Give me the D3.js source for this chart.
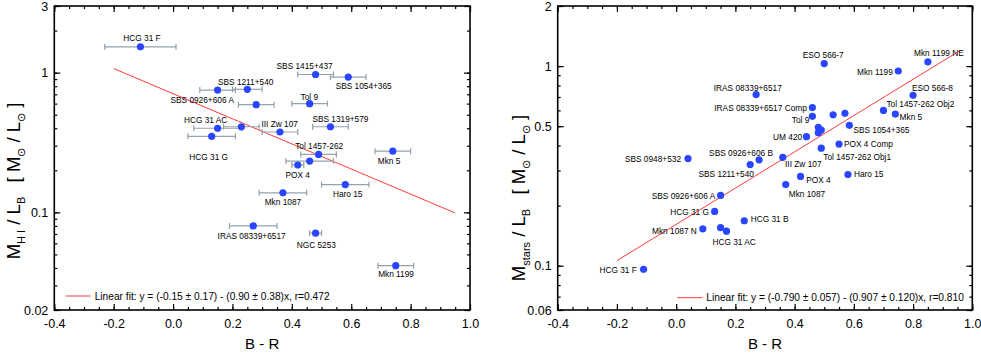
<!DOCTYPE html>
<html>
<head>
<meta charset="utf-8">
<script src="https://cdn.jsdelivr.net/npm/d3@7"></script>
<style>
  body { margin: 0; background: #fff; }
  text { font-family: "Liberation Sans", Arial, sans-serif; fill: #000; }
</style>
</head>
<body>
<svg id="chart" width="981" height="353"></svg>
<script>
// ---- data: left panel (HI mass to light) ----
const hiNames = ['HCG 31 F', 'SBS 1415+437', 'SBS 1054+365', 'SBS 1211+540', 'SBS 0926+606 A', '',
  'Tol 9', 'SBS 1319+579', 'HCG 31 AC', '', 'HCG 31 G', 'III Zw 107', 'Tol 1457-262', '',
  'POX 4', 'Mkn 5', 'Haro 15', 'Mkn 1087', 'IRAS 08339+6517', 'NGC 5253', 'Mkn 1199'];
const hiX = [-0.11, 0.48, 0.59, 0.25, 0.15, 0.28, 0.46, 0.53, 0.15, 0.23, 0.13, 0.36, 0.49, 0.46,
  0.42, 0.74, 0.58, 0.37, 0.27, 0.48, 0.75];
const hiXErr = [0.12, 0.06, 0.06, 0.05, 0.06, 0.06, 0.06, 0.06, 0.08, 0.06, 0.08, 0.06, 0.06, 0.08,
  0.02, 0.06, 0.08, 0.08, 0.08, 0.02, 0.06];
const hiY = [1.53, 0.97, 0.93, 0.76, 0.75, 0.59, 0.60, 0.41, 0.40, 0.41, 0.35, 0.376, 0.26, 0.233,
  0.218, 0.274, 0.158, 0.138, 0.080, 0.071, 0.0415];
const hiFitX = [-0.2, 0.95];
const hiFitY = [1.07, 0.099];
const hiYTicks = [0.02, 0.1, 1, 3];
const hiLegend = 'Linear fit: y = (-0.15 \u00b1 0.17) - (0.90 \u00b1 0.38)x, r=0.472';

// ---- data: right panel (stellar mass to light) ----
const starNames = ['ESO 566-7', 'Mkn 1199 NE', 'Mkn 1199', 'ESO 566-8', 'IRAS 08339+6517',
  'IRAS 08339+6517 Comp', 'Tol 9', '', '', 'Tol 1457-262 Obj2', 'Mkn 5', '', '', '',
  'SBS 1054+365', 'UM 420', 'POX 4 Comp', 'Tol 1457-262 Obj1', 'III Zw 107', 'SBS 0948+532',
  'SBS 0926+606 B', 'SBS 1211+540', 'POX 4', 'Haro 15', 'Mkn 1087', 'SBS 0926+606 A',
  'HCG 31 G', 'HCG 31 B', 'Mkn 1087 N', '', 'HCG 31 AC', 'HCG 31 F'];
const starX = [0.50, 0.85, 0.75, 0.80, 0.27, 0.46, 0.46, 0.53, 0.57, 0.70, 0.74, 0.48, 0.49, 0.48,
  0.585, 0.44, 0.55, 0.49, 0.36, 0.04, 0.28, 0.25, 0.42, 0.58, 0.37, 0.15, 0.13, 0.23, 0.09, 0.15,
  0.17, -0.11];
const starY = [1.03, 1.05, 0.945, 0.714, 0.72, 0.62, 0.56, 0.57, 0.58, 0.60, 0.575, 0.494, 0.478,
  0.464, 0.505, 0.443, 0.407, 0.388, 0.349, 0.344, 0.339, 0.321, 0.28, 0.286, 0.255, 0.225, 0.187,
  0.168, 0.153, 0.155, 0.149, 0.096];
const starFitX = [-0.2, 0.96];
const starFitY = [0.106, 1.2];
const starYTicks = [0.06, 0.1, 0.5, 1, 2];
const starLegend = 'Linear fit: y = (-0.790 \u00b1 0.057) - (0.907 \u00b1 0.120)x, r=0.810';

const xTicks = [-0.4, -0.2, 0.0, 0.2, 0.4, 0.6, 0.8, 1.0];

// label placement (pixel offset from the point, text anchor)
const hiLabelPos = [[1.6, -5.7, 'middle'], [-11, -5.3, 'middle'], [15.4, 11.5, 'middle'],
  [-1.6, -4.8, 'middle'], [-15.4, 12.7, 'middle'], null, [-0.3, -4, 'middle'], [10, -5, 'middle'],
  [-12, -5.7, 'middle'], null, [-3, 23.2, 'middle'], [-0.3, -5, 'middle'], [0.6, -5.7, 'middle'],
  null, [0, 12.5, 'middle'], [-3.7, 12.7, 'middle'], [2.4, 12.3, 'middle'], [0, 12.5, 'middle'],
  [-1.6, 13.5, 'middle'], [0.7, 14.7, 'middle'], [0.3, 11.3, 'middle']];
const starLabelPos = [[-1, -5.3, 'middle'], [11, -6, 'middle'], [-5.4, 4, 'end'],
  [19.4, -4.3, 'middle'], [-8.3, -3.7, 'middle'], [-5.6, 3.7, 'end'], [-3, 7, 'end'], null, null,
  [3, -3.3, 'start'], [4.3, 6, 'start'], null, null, null, [4, 7.7, 'start'], [-4.3, 3.3, 'end'],
  [5, 3, 'start'], [2, 11.7, 'start'], [2.3, 9.7, 'start'], [-7, 3.3, 'end'], [-18, -4, 'middle'],
  [-24, 12.3, 'middle'], [5.7, 6.2, 'start'], [6, 2.8, 'start'], [3, 12.3, 'start'],
  [-5.4, 3.2, 'end'], [-5.7, 3.7, 'end'], [6.4, 1.3, 'start'], [-6, 5, 'end'], null,
  [7.6, 13.5, 'middle'], [-6.7, 3.7, 'end']];

const svg = d3.select('#chart');

function minorLogTicks(domain) {
  let out = [];
  let lo = Math.floor(Math.log10(domain[0])), hi = Math.ceil(Math.log10(domain[1]));
  for (let e = lo; e <= hi; e++) {
    for (let m = 1; m <= 9; m++) {
      let v = +(m * Math.pow(10, e)).toPrecision(6);
      if (v >= domain[0] * 0.999 && v <= domain[1] * 1.001) out.push(v);
    }
  }
  return out;
}

function drawPanel(p) {
  const x = d3.scaleLinear().domain([-0.4, 1.0]).range([p.left, p.right]);
  const y = d3.scaleLog().domain(p.yDomain).range([p.bottom, p.top]);
  const g = svg.append('g');

  const xMinor = d3.range(-0.4, 1.0001, 0.05).map(v => +v.toFixed(2));
  const yMinor = minorLogTicks(p.yDomain);

  // minor ticks on all four sides
  const minorAxes = [
    [d3.axisBottom(x).tickValues(xMinor), p.bottom, 'y'],
    [d3.axisTop(x).tickValues(xMinor), p.top, 'y'],
    [d3.axisLeft(y).tickValues(yMinor), p.left, 'x'],
    [d3.axisRight(y).tickValues(yMinor), p.right, 'x']
  ];
  minorAxes.forEach(([ax, pos, dir]) => {
    g.append('g')
      .attr('transform', dir === 'y' ? `translate(0,${pos})` : `translate(${pos},0)`)
      .call(ax.tickSize(-3).tickSizeOuter(0).tickFormat(''))
      .call(s => s.select('.domain').remove());
  });

  // major ticks
  g.append('g').attr('transform', `translate(0,${p.bottom})`)
    .call(d3.axisBottom(x).tickValues(xTicks).tickSize(-6).tickSizeOuter(0)
      .tickPadding(9).tickFormat(d => d.toFixed(1)))
    .call(s => s.select('.domain').remove())
    .call(s => s.selectAll('text').attr('font-size', 12.5));
  g.append('g').attr('transform', `translate(0,${p.top})`)
    .call(d3.axisTop(x).tickValues(xTicks).tickSize(-6).tickSizeOuter(0).tickFormat(''))
    .call(s => s.select('.domain').remove());
  g.append('g').attr('transform', `translate(${p.left},0)`)
    .call(d3.axisLeft(y).tickValues(p.yTicks).tickSize(-6).tickSizeOuter(0)
      .tickPadding(6).tickFormat(d => String(d)))
    .call(s => s.select('.domain').remove())
    .call(s => s.selectAll('text').attr('font-size', 12.5));
  g.append('g').attr('transform', `translate(${p.right},0)`)
    .call(d3.axisRight(y).tickValues(p.yTicks).tickSize(-6).tickSizeOuter(0).tickFormat(''))
    .call(s => s.select('.domain').remove());
  g.selectAll('.tick line').attr('stroke', '#000').attr('stroke-width', 1.2);

  g.append('rect')
    .attr('x', p.left).attr('y', p.top)
    .attr('width', p.right - p.left).attr('height', p.bottom - p.top)
    .attr('fill', 'none').attr('stroke', '#000').attr('stroke-width', 1.6);

  // fit line
  g.append('path')
    .attr('d', d3.line().x(d => x(d[0])).y(d => y(d[1]))(d3.zip(p.fitX, p.fitY)))
    .attr('stroke', '#ff3b3b').attr('stroke-width', 1).attr('fill', 'none');

  const idx = d3.range(p.xs.length);

  // error bars
  if (p.xErr) {
    const eb = g.append('g').attr('stroke', '#93a2ae').attr('stroke-width', 1.2);
    idx.forEach(i => {
      const cy = y(p.ys[i]);
      const x0 = x(p.xs[i] - p.xErr[i]), x1 = x(p.xs[i] + p.xErr[i]);
      eb.append('line').attr('x1', x0).attr('x2', x1).attr('y1', cy).attr('y2', cy);
      eb.append('line').attr('x1', x0).attr('x2', x0).attr('y1', cy - 3).attr('y2', cy + 3);
      eb.append('line').attr('x1', x1).attr('x2', x1).attr('y1', cy - 3).attr('y2', cy + 3);
    });
  }

  g.append('g').selectAll('circle').data(idx).join('circle')
    .attr('cx', i => x(p.xs[i])).attr('cy', i => y(p.ys[i]))
    .attr('r', 3.6).attr('fill', '#2a45ff');

  g.append('g').selectAll('text').data(idx.filter(i => p.names[i])).join('text')
    .attr('x', i => x(p.xs[i]) + p.labelPos[i][0])
    .attr('y', i => y(p.ys[i]) + p.labelPos[i][1])
    .attr('text-anchor', i => p.labelPos[i][2])
    .attr('font-size', 8.3)
    .text(i => p.names[i]);

  // legend
  g.append('line')
    .attr('x1', p.legendX).attr('x2', p.legendX + 25)
    .attr('y1', p.legendY).attr('y2', p.legendY)
    .attr('stroke', '#ff3b3b').attr('stroke-width', 1);
  g.append('text')
    .attr('x', p.legendX + 29).attr('y', p.legendY + 3.6)
    .attr('font-size', 10.2)
    .text(p.legend);

  // axis titles
  g.append('text')
    .attr('x', (p.left + p.right) / 2).attr('y', 348.5)
    .attr('text-anchor', 'middle').attr('font-size', 15)
    .text('B - R');

  const t = g.append('text')
    .attr('transform', `translate(${p.titleX},${p.titleY}) rotate(-90)`)
    .attr('text-anchor', 'middle')
    .attr('font-size', 18.5);
  t.append('tspan').text('M');
  t.append('tspan').attr('font-size', 11).attr('dy', 5).text(p.sub);
  t.append('tspan').attr('dy', -5).text(' / L');
  t.append('tspan').attr('font-size', 11).attr('dy', 5).text('B');
  t.append('tspan').attr('dy', -5).text('\u2002 [ M');
  t.append('tspan').attr('font-size', 11).attr('dy', 5).text('\u2299');
  t.append('tspan').attr('dy', -5).text(' / L');
  t.append('tspan').attr('font-size', 11).attr('dy', 5).text('\u2299');
  t.append('tspan').attr('dy', -5).text(' ]');
}

drawPanel({
  left: 54.3, right: 470, top: 6, bottom: 310,
  yDomain: [0.02, 3], yTicks: hiYTicks,
  xs: hiX, ys: hiY, xErr: hiXErr, names: hiNames, labelPos: hiLabelPos,
  fitX: hiFitX, fitY: hiFitY, legend: hiLegend, legendX: 65.7, legendY: 296,
  titleX: 20, titleY: 181, sub: 'H I'
});

drawPanel({
  left: 557.7, right: 972.3, top: 6, bottom: 310,
  yDomain: [0.06, 2], yTicks: starYTicks,
  xs: starX, ys: starY, xErr: null, names: starNames, labelPos: starLabelPos,
  fitX: starFitX, fitY: starFitY, legend: starLegend, legendX: 677.3, legendY: 297.7,
  titleX: 525, titleY: 198, sub: 'stars'
});
</script>
</body>
</html>
